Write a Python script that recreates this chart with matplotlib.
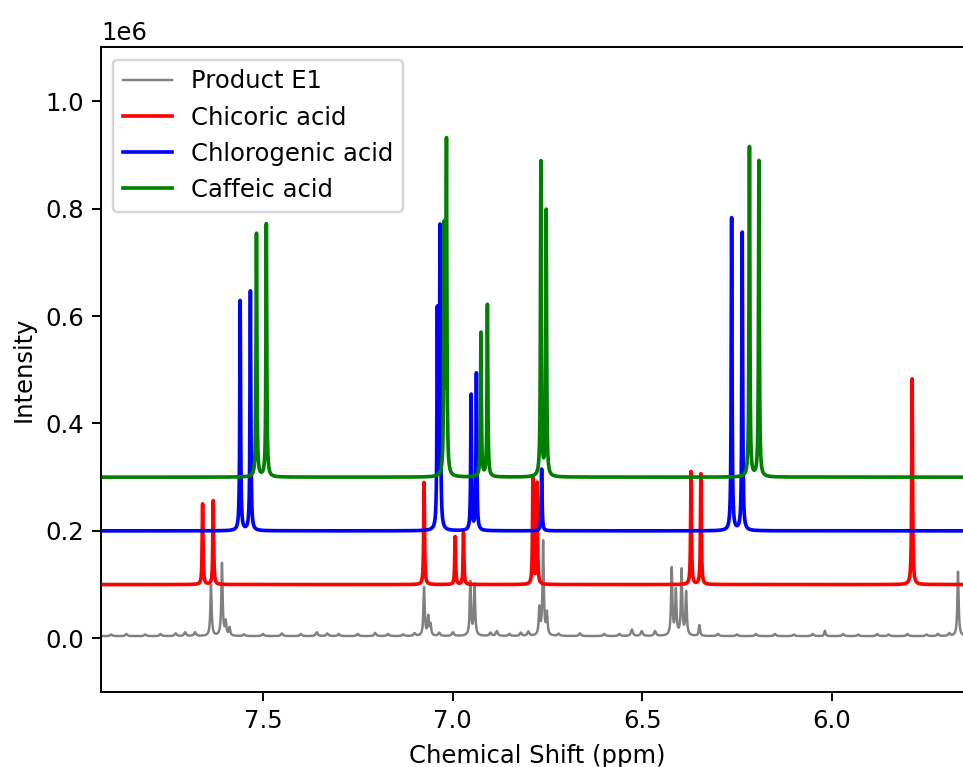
import numpy as np
import matplotlib
matplotlib.use("Agg")
import matplotlib.pyplot as plt

# Peak lists (ppm, height) for each 1H NMR spectrum, heights in units of 1e6
e1_shifts = [7.637, 7.608, 7.598, 7.588, 7.075, 7.064, 7.058, 6.953, 6.942, 6.771,
             6.761, 6.751, 6.422, 6.411, 6.396, 6.384, 6.349, 6.018, 5.667]
e1_heights = [0.095, 0.135, 0.025, 0.015, 0.09, 0.035, 0.02, 0.10, 0.095, 0.05,
              0.175, 0.04, 0.125, 0.083, 0.122, 0.08, 0.02, 0.01, 0.12]

# small humps along the product baseline
e1_minor_shifts = [7.90, 7.86, 7.81, 7.77, 7.73, 7.705, 7.679, 7.55, 7.50, 7.45,
                   7.40, 7.358, 7.33, 7.30, 7.25, 7.204, 7.17, 7.13, 7.10, 7.035,
                   6.999, 6.90, 6.883, 6.85, 6.82, 6.80, 6.72, 6.664, 6.60, 6.56,
                   6.527, 6.501, 6.466, 6.30, 6.25, 6.20, 6.15, 6.10, 6.05, 5.97,
                   5.93, 5.88, 5.85, 5.80, 5.75, 5.72, 5.69]
e1_minor_heights = [0.003, 0.004, 0.003, 0.004, 0.005, 0.007, 0.007, 0.003, 0.004, 0.005,
                    0.004, 0.007, 0.005, 0.004, 0.004, 0.006, 0.004, 0.003, 0.005, 0.006,
                    0.007, 0.006, 0.009, 0.004, 0.006, 0.008, 0.004, 0.005, 0.004, 0.004,
                    0.012, 0.009, 0.009, 0.004, 0.003, 0.004, 0.004, 0.003, 0.004, 0.004,
                    0.003, 0.004, 0.003, 0.004, 0.003, 0.004, 0.005]
e1_baseline = 0.004

chicoric_shifts = [7.659, 7.631, 7.075, 6.993, 6.971, 6.788, 6.777, 6.371, 6.345, 5.788]
chicoric_heights = [0.150, 0.156, 0.19, 0.089, 0.096, 0.199, 0.188, 0.21, 0.206, 0.383]

chlorogenic_shifts = [7.560, 7.533, 7.040, 7.033, 6.951, 6.937, 6.765, 6.264, 6.236]
chlorogenic_heights = [0.428, 0.446, 0.40, 0.558, 0.252, 0.292, 0.115, 0.582, 0.555]

caffeic_shifts = [7.517, 7.491, 7.022, 7.016, 6.925, 6.908, 6.767, 6.753, 6.217, 6.192]
caffeic_heights = [0.453, 0.471, 0.45, 0.612, 0.268, 0.320, 0.585, 0.494, 0.614, 0.588]

offsets = [0.0, 0.1, 0.2, 0.3]
labels = ['Product E1', 'Chicoric acid', 'Chlorogenic acid', 'Caffeic acid']
colors = ['gray', 'red', 'blue', 'green']

ppm = np.linspace(5.5, 8.0, 25001)


def spectrum(shifts, heights, hwhm=0.0013):
    # sum of Lorentzian lines
    y = np.zeros_like(ppm)
    for s, h in zip(shifts, heights):
        y += h / (1 + ((ppm - s) / hwhm) ** 2)
    return y * 1e6


spectra = [
    spectrum(e1_shifts, e1_heights, 0.002)
    + spectrum(e1_minor_shifts, e1_minor_heights, 0.003) + e1_baseline * 1e6,
    spectrum(chicoric_shifts, chicoric_heights),
    spectrum(chlorogenic_shifts, chlorogenic_heights),
    spectrum(caffeic_shifts, caffeic_heights),
]

fig = plt.figure(figsize=(963 / 175, 767 / 175), dpi=175)
ax = fig.add_axes([0.1049, 0.0978, 0.9051, 0.8403])

for y, off, lab, c in zip(spectra, offsets, labels, colors):
    lw = 1.0 if c == 'gray' else 1.5
    ax.plot(ppm, y + off * 1e6, color=c, lw=lw, label=lab)

ax.set_xlim(7.927, 5.6285)
ax.set_ylim(-0.1e6, 1.1e6)
ax.spines['right'].set_visible(False)
ax.set_xlabel('Chemical Shift (ppm)', labelpad=4.5)
ax.set_ylabel('Intensity')
ax.legend(loc='upper left')

fig.savefig('out.png', dpi=175)
